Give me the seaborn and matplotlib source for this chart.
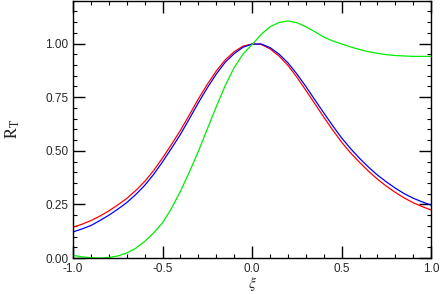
import numpy as np
import pandas as pd
import matplotlib
matplotlib.use('Agg')
from matplotlib import pyplot as plt
from matplotlib.ticker import MultipleLocator, FormatStrFormatter
import seaborn as sns

xi = [-1.00, -0.95, -0.90, -0.85, -0.80, -0.75, -0.70, -0.65, -0.60, -0.55,
      -0.50, -0.45, -0.40, -0.35, -0.30, -0.25, -0.20, -0.15, -0.10, -0.05,
      0.00, 0.05, 0.10, 0.15, 0.20, 0.25, 0.30, 0.35, 0.40, 0.45,
      0.50, 0.55, 0.60, 0.65, 0.70, 0.75, 0.80, 0.85, 0.90, 0.95, 1.00]

rt_red = [0.144, 0.158, 0.175, 0.196, 0.220, 0.248, 0.278, 0.315, 0.357, 0.408,
          0.467, 0.530, 0.596, 0.668, 0.742, 0.810, 0.872, 0.924, 0.962, 0.988,
          0.998, 0.996, 0.975, 0.942, 0.898, 0.843, 0.782, 0.720, 0.657, 0.597,
          0.540, 0.490, 0.446, 0.405, 0.368, 0.335, 0.306, 0.280, 0.258, 0.240, 0.224]

rt_blue = [0.122, 0.136, 0.152, 0.175, 0.200, 0.228, 0.259, 0.296, 0.339, 0.390,
           0.449, 0.512, 0.577, 0.650, 0.724, 0.794, 0.858, 0.913, 0.953, 0.983,
           0.997, 0.998, 0.981, 0.951, 0.910, 0.858, 0.800, 0.738, 0.677, 0.617,
           0.560, 0.510, 0.465, 0.424, 0.387, 0.355, 0.326, 0.300, 0.279, 0.262, 0.247]

rt_green = [0.013, 0.006, 0.002, 0.000, 0.003, 0.010, 0.024, 0.046, 0.078, 0.117,
            0.165, 0.232, 0.312, 0.402, 0.498, 0.602, 0.706, 0.804, 0.888, 0.952,
            0.995, 1.042, 1.078, 1.098, 1.105, 1.097, 1.078, 1.055, 1.030, 1.012,
            0.998, 0.984, 0.972, 0.962, 0.954, 0.948, 0.944, 0.942, 0.940, 0.940, 0.940]

series = ['red', 'blue', 'green']
colores = {'red': '#ff0000', 'blue': '#0000ff', 'green': '#00ee00'}

df = pd.DataFrame({
    'xi': xi * 3,
    'rt': rt_red + rt_blue + rt_green,
    'curva': ['red'] * len(xi) + ['blue'] * len(xi) + ['green'] * len(xi),
})

sns.set_style('ticks')
plt.rcParams['font.family'] = ['Liberation Sans', 'DejaVu Sans']
plt.rcParams['mathtext.fontset'] = 'stix'

fig = plt.figure(figsize=(4.4, 2.94), dpi=100)
ax = fig.add_axes([0.166, 0.122, 0.814, 0.876])

sns.lineplot(data=df, x='xi', y='rt', hue='curva', hue_order=series,
             palette=colores, linewidth=0.9, legend=False, ax=ax, sort=False)

ax.set_xlim(-1, 1)
ax.set_ylim(0, 1.2)
ax.xaxis.set_major_locator(MultipleLocator(0.5))
ax.xaxis.set_minor_locator(MultipleLocator(0.1))
ax.yaxis.set_major_locator(MultipleLocator(0.25))
ax.yaxis.set_minor_locator(MultipleLocator(0.05))
ax.xaxis.set_major_formatter(FormatStrFormatter('%.1f'))
ax.yaxis.set_major_formatter(FormatStrFormatter('%.2f'))

ax.tick_params(which='both', direction='in', top=True, right=True,
               color='black', labelsize=8.5, pad=3.5)
ax.tick_params(which='major', length=8.5, width=1.0)
ax.tick_params(which='minor', length=3, width=0.8)
for s in ax.spines.values():
    s.set_linewidth(1.0)
    s.set_color('black')

ax.set_xlabel(r'$\xi$', fontsize=11, va='center')
ax.set_ylabel(r'$\mathrm{R_T}$', fontsize=12, va='center')
ax.xaxis.set_label_coords(0.5, -0.1)
ax.yaxis.set_label_coords(-0.168, 0.5)

fig.savefig('out.png', dpi=100)
